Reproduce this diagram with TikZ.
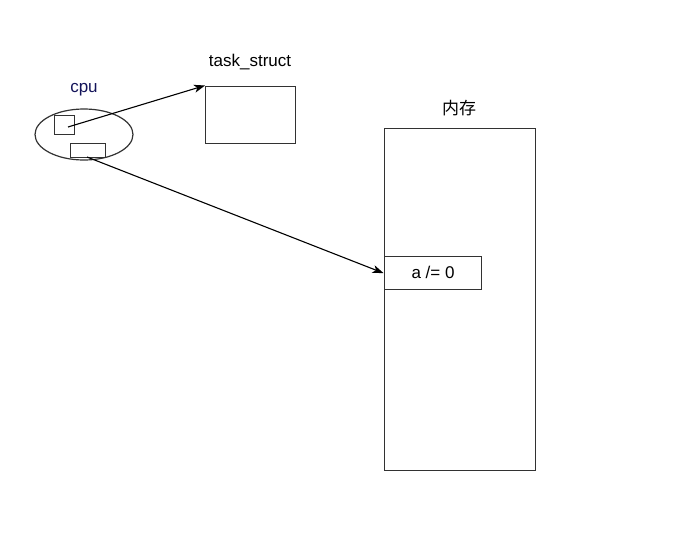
\documentclass[tikz,border=0pt]{standalone}
\usepackage{fontspec}
\setmainfont{Liberation Sans}
\newfontfamily\cjk{Noto Sans CJK SC}
\usetikzlibrary{arrows.meta,shapes.geometric}
\definecolor{cpucol}{RGB}{20,20,90}
\definecolor{edge}{RGB}{50,50,50}
\tikzset{
  box/.style={draw=edge, line width=1.2pt, inner sep=0pt, anchor=north west},
  lbl/.style={inner sep=0pt, font=\fontsize{17}{20}\selectfont},
  conn/.style={draw=black, line width=1.1pt, -{Stealth[length=11pt,width=8pt,inset=3pt]}}
}
\begin{document}
\begin{tikzpicture}[x=1pt,y=-1pt]
\useasboundingbox (0,0) rectangle (684,546);
% cpu
\node[draw=edge, line width=1.2pt, ellipse, minimum width=98pt, minimum height=51pt, inner sep=0pt] (cpu) at (84,134.5) {};
\node[lbl, text=cpucol] (cpulbl) at (84,90) {cpu};
\node[box, minimum width=20pt, minimum height=19pt] (sq) at (54,115) {};
\node[box, minimum width=35pt, minimum height=14pt] (reg) at (70,143) {};
\coordinate (sqpt) at (68,127);
\coordinate (regpt) at (87,157);
% task_struct
\node[box, minimum width=90pt, minimum height=57pt] (ts) at (205,85.5) {};
\node[lbl] (tslbl) at (250,62) {task\_struct};
% memory
\node[box, minimum width=151pt, minimum height=342pt] (mem) at (383.5,128) {};
\node[lbl] (memlbl) at (459,108) {\cjk 内存};
\node[box, fill=white, minimum width=97.5pt, minimum height=33pt] (var) at (383.5,256) {};
\node[lbl] (varlbl) at (433,272.5) {a /= 0};
% connectors
\draw[conn] (sqpt) -- (ts.north west);
\draw[conn] (regpt) -- (var.west);
\end{tikzpicture}
\end{document}
